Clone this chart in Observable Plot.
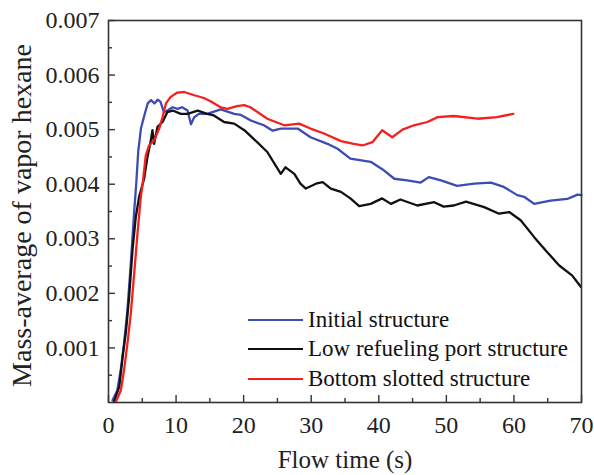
<!DOCTYPE html>
<html>
<head>
<meta charset="utf-8">
<script src="https://cdn.jsdelivr.net/npm/d3@7"></script>
<script src="https://cdn.jsdelivr.net/npm/@observablehq/plot@0.6"></script>
<style>
  html, body { margin: 0; padding: 0; background: #fff; }
  #wrap { position: relative; width: 594px; height: 475px; }
  #legend { position: absolute; left: 248px; top: 305px; font-size: 23px; color: #111; }
  #legend .row { display: flex; align-items: center; height: 29.5px; white-space: nowrap; }
  #legend .sw { width: 55px; height: 2.4px; margin-right: 5px; }
</style>
</head>
<body>
<div id="wrap"></div>
<script>
// ---- data ----
const seriesNames = ["Initial structure", "Low refueling port structure", "Bottom slotted structure"];
const seriesColors = ["#3c4cb4", "#111111", "#f5201e"];

const initialT = [0.6,1.3,1.8,2.3,2.8,3.3,3.8,4.1,4.4,4.8,5.3,5.8,6.3,6.8,7.3,7.7,8.2,8.7,9.5,10.2,10.9,11.7,12.2,12.7,13.4,14.6,16.6,18.6,19.6,21.0,23.0,24.3,25.5,28.0,29.9,32.4,33.9,35.8,38.8,40.8,42.3,44.2,46.2,47.4,49.2,51.6,54.1,56.6,58.5,60.5,61.5,63.0,65.4,67.9,69.4,70];
const initialV = [0.00004,0.00022,0.00059,0.00108,0.00169,0.00255,0.0035,0.0040,0.0046,0.00502,0.00526,0.00548,0.00554,0.00548,0.00555,0.00551,0.00532,0.00535,0.00541,0.00538,0.00541,0.00535,0.0051,0.00523,0.00529,0.00529,0.00537,0.00529,0.00527,0.00517,0.00508,0.00498,0.00502,0.00502,0.00486,0.00474,0.00465,0.00447,0.00441,0.00425,0.0041,0.00407,0.00403,0.00413,0.00407,0.00397,0.00401,0.00403,0.00395,0.0038,0.00377,0.00364,0.0037,0.00373,0.00381,0.0038];

const lowT = [0.8,1.6,2.1,2.6,3.05,3.55,4.04,4.53,5.27,5.77,6.26,6.5,6.75,7.25,8.0,8.7,9.5,10.7,11.7,13.2,14.6,15.6,17.1,18.6,20.1,22.0,23.5,24.7,25.5,26.2,27.5,28.4,29.2,30.7,31.7,32.9,34.4,35.8,37.1,38.8,40.5,41.8,43.2,45.7,48.2,49.6,51.1,52.9,55.6,57.8,59.3,61.0,63.0,64.9,66.7,68.6,69.9];
const lowV = [0.00001,0.00029,0.00084,0.00132,0.00193,0.00279,0.0034,0.00377,0.0041,0.0045,0.0048,0.00499,0.00474,0.00505,0.00514,0.00532,0.00535,0.00529,0.00529,0.00535,0.00529,0.00526,0.00514,0.00511,0.00499,0.00477,0.00459,0.00435,0.00419,0.00431,0.00419,0.00401,0.00392,0.00401,0.00404,0.00392,0.00386,0.00374,0.0036,0.00364,0.00374,0.00364,0.00372,0.00361,0.00367,0.00359,0.00361,0.00368,0.00358,0.00346,0.00349,0.00334,0.00303,0.00276,0.00251,0.00233,0.00212];

const bottomT = [1.08,1.82,2.3,2.8,3.3,3.8,4.29,4.78,5.03,5.52,6.0,6.75,7.5,8.0,8.5,9.2,10.2,11.2,12.7,14.1,15.1,16.6,17.6,19.0,20.1,21.0,23.5,26.0,28.2,29.9,31.9,34.4,36.3,37.6,39.05,40.5,42.0,43.5,45.2,47.2,48.7,51.1,54.6,57.5,59.9];
const bottomV = [0.00001,0.00022,0.00059,0.00108,0.00163,0.00236,0.0031,0.00377,0.00398,0.00453,0.00471,0.0048,0.00502,0.00523,0.00548,0.0056,0.00568,0.00569,0.00563,0.00558,0.00552,0.00541,0.00538,0.00543,0.00545,0.00541,0.0052,0.00508,0.00511,0.00502,0.00493,0.00479,0.00474,0.00471,0.00477,0.00499,0.00486,0.005,0.00508,0.00514,0.00523,0.00525,0.0052,0.00523,0.00529];

const xTicks = [0,10,20,30,40,50,60,70];
const xMinor = [5,15,25,35,45,55,65];
const yTicks = [0.001,0.002,0.003,0.004,0.005,0.006,0.007];
const yMinor = [0.0005,0.0015,0.0025,0.0035,0.0045,0.0055,0.0065];
const xLabel = "Flow time (s)";
const yLabel = "Mass-average of vapor hexane";

// ---- build table ----
const allT = [initialT, lowT, bottomT];
const allV = [initialV, lowV, bottomV];
const rows = [];
seriesNames.forEach((name, i) => {
  allT[i].forEach((t, j) => rows.push({series: name, t, v: allV[i][j]}));
});

const W = 594, H = 475;
const mL = 108, mR = 13, mT = 20, mB = 73;
const plotW = W - mL - mR, plotH = H - mT - mB;
const serif = '"Liberation Serif", Tinos, "Nimbus Roman", FreeSerif, "Noto Serif", "DejaVu Serif", "Times New Roman", Times, serif';
document.getElementById("wrap").style.fontFamily = serif;

const chart = Plot.plot({
  width: W, height: H,
  marginLeft: mL, marginRight: mR, marginTop: mT, marginBottom: mB,
  style: {fontFamily: serif, fontSize: "23px", color: "#222", background: "#fff"},
  x: {domain: [0, 70]},
  y: {domain: [0, 0.007]},
  color: {domain: seriesNames, range: seriesColors},
  marks: [
    Plot.line(rows, {x: "t", y: "v", z: "series", stroke: "series", strokeWidth: 2.3, curve: "linear"}),
    Plot.frame({stroke: "#333", strokeWidth: 1.6}),
    Plot.axisX({ticks: xTicks, tickSize: 0, tickPadding: 13, tickFormat: d => String(d), fontSize: 24, label: null}),
    Plot.axisY({ticks: yTicks, tickSize: 0, tickPadding: 9, tickFormat: d3.format(".3f"), fontSize: 24, label: null}),
    Plot.tickX(xTicks, {x: d => d, stroke: "#333", strokeWidth: 1.4, insetTop: plotH - 7}),
    Plot.tickX(xMinor, {x: d => d, stroke: "#333", strokeWidth: 1.4, insetTop: plotH - 4}),
    Plot.tickY(yTicks, {y: d => d, stroke: "#333", strokeWidth: 1.4, insetRight: plotW - 7}),
    Plot.tickY(yMinor, {y: d => d, stroke: "#333", strokeWidth: 1.4, insetRight: plotW - 4}),
    Plot.text([xLabel], {frameAnchor: "bottom", text: d => d, dy: 65, lineAnchor: "bottom", textAnchor: "middle", fontSize: 25, fill: "#222"}),
    Plot.text([yLabel], {frameAnchor: "left", text: d => d, dx: -86, dy: 4, rotate: -90, lineAnchor: "middle", textAnchor: "middle", fontSize: 28, fill: "#222"})
  ]
});

const wrap = document.getElementById("wrap");
wrap.appendChild(chart);

const legend = document.createElement("div");
legend.id = "legend";
seriesNames.forEach((name, i) => {
  const row = document.createElement("div");
  row.className = "row";
  const sw = document.createElement("div");
  sw.className = "sw";
  sw.style.background = seriesColors[i];
  const lab = document.createElement("span");
  lab.textContent = name;
  row.appendChild(sw);
  row.appendChild(lab);
  legend.appendChild(row);
});
wrap.appendChild(legend);
</script>
</body>
</html>
